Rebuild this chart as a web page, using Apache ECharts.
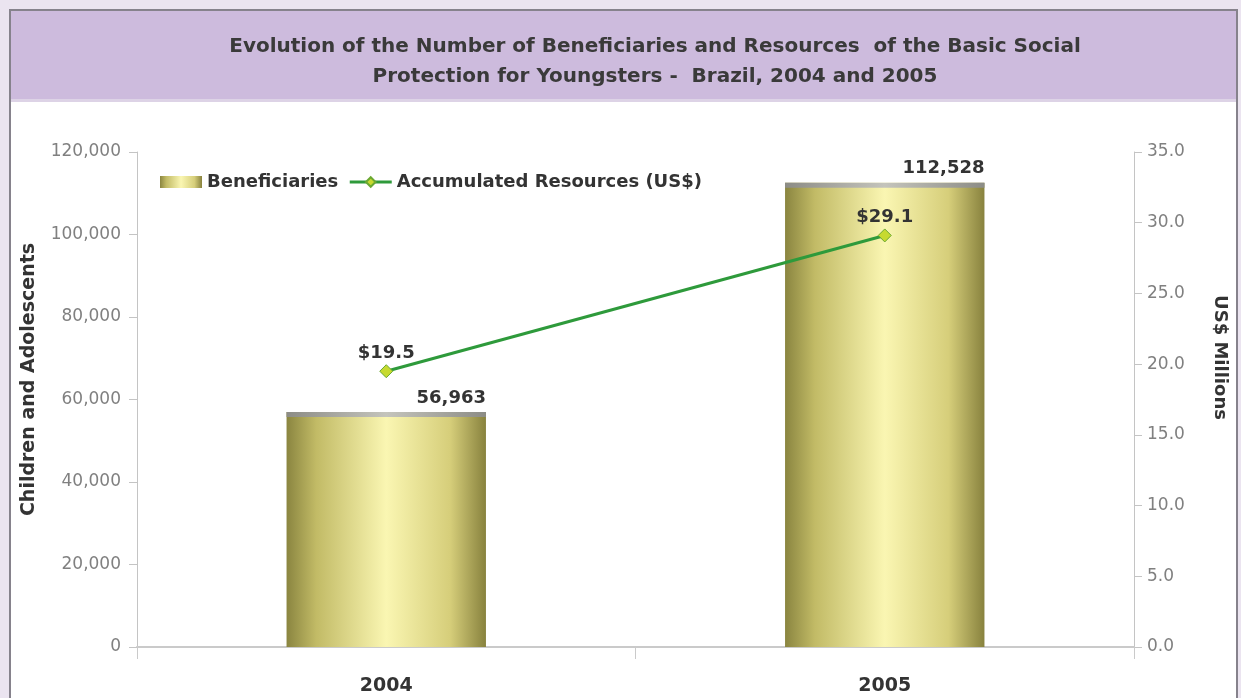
<!DOCTYPE html>
<html>
<head>
<meta charset="utf-8">
<title>Basic Social Protection for Youngsters - Brazil</title>
<script src="https://cdn.jsdelivr.net/npm/echarts@6/dist/echarts.min.js"></script>
<style>
  html, body { margin: 0; padding: 0; background: #ebe4f0; }
  #chart { width: 1241px; height: 698px; }
</style>
</head>
<body>
<div id="chart"></div>
<script>
// Years shown on the category axis
const years = ['2004', '2005'];
// Children and adolescents served
const beneficiaries = [56963, 112528];
// Accumulated resources, US$ millions
const resources = [19.5, 29.1];
// Axis ranges
const leftMax = 120000, leftStep = 20000;
const rightMax = 35, rightStep = 5;

const FONT = 'DejaVu Sans, Verdana, sans-serif';
const chart = echarts.init(document.getElementById('chart'), null, { renderer: 'canvas' });

// Cylinder-like shading across each bar
const barFill = new echarts.graphic.LinearGradient(0, 0, 1, 0, [
  { offset: 0, color: '#8a8540' },
  { offset: 0.15, color: '#c2bb66' },
  { offset: 0.5, color: '#faf6b2' },
  { offset: 0.82, color: '#d6ce7a' },
  { offset: 1, color: '#88823e' }
]);
const capFill = new echarts.graphic.LinearGradient(0, 0, 1, 0, [
  { offset: 0, color: '#8c8c86' },
  { offset: 0.5, color: '#c4c4bc' },
  { offset: 1, color: '#8c8c86' }
]);

chart.setOption({
  backgroundColor: '#ebe4f0',
  animation: false,
  textStyle: { fontFamily: FONT },
  graphic: [
    { type: 'rect', shape: { x: 10, y: 10, width: 1227, height: 700 },
      style: { fill: '#ffffff', stroke: '#86828c', lineWidth: 2 }, z: -10 },
    { type: 'rect', shape: { x: 11, y: 11, width: 1225, height: 89 },
      style: { fill: '#cdbbdd' }, z: -9 },
    { type: 'rect', shape: { x: 11, y: 99, width: 1225, height: 3 },
      style: { fill: '#ddd3e6' }, z: -9 }
  ],
  title: {
    text: 'Evolution of the Number of Beneficiaries and Resources  of the Basic Social\nProtection for Youngsters -  Brazil, 2004 and 2005',
    left: 650, top: 27, textAlign: 'center',
    textStyle: { fontSize: 20, fontWeight: 'bold', color: '#3a3a3a', lineHeight: 30, fontFamily: FONT }
  },
  legend: {
    left: 155, top: 168, itemGap: 10, itemWidth: 42, itemHeight: 12,
    textStyle: { fontSize: 18, fontWeight: 'bold', color: '#333', fontFamily: FONT },
    data: [
      { name: 'Beneficiaries', icon: 'rect' },
      { name: 'Accumulated Resources (US$)', lineStyle: { width: 3 } }
    ]
  },
  grid: { left: 137, right: 107, top: 152, bottom: 51, containLabel: false },
  xAxis: {
    type: 'category', data: years,
    axisLine: { lineStyle: { color: '#cacaca', width: 2 } },
    axisTick: { show: true, length: 12, lineStyle: { color: '#cacaca' } },
    axisLabel: { fontSize: 19, fontWeight: 'bold', color: '#333', margin: 30, fontFamily: FONT }
  },
  yAxis: [
    {
      type: 'value', min: 0, max: leftMax, interval: leftStep,
      name: 'Children and Adolescents', nameLocation: 'middle', nameGap: 98, nameRotate: 90,
      nameTextStyle: { fontSize: 19, fontWeight: 'bold', color: '#333', fontFamily: FONT,
        padding: [0, 0, 0, 40] },
      axisLine: { show: true, lineStyle: { color: '#c4c4c4' } },
      axisTick: { show: true, length: 8, lineStyle: { color: '#c4c4c4' } },
      splitLine: { show: false },
      axisLabel: { fontSize: 17, color: '#808080', margin: 16, fontFamily: FONT,
        formatter: v => v.toLocaleString('en-US') }
    },
    {
      type: 'value', min: 0, max: rightMax, interval: rightStep, position: 'right',
      name: 'US$ Millions', nameLocation: 'middle', nameGap: 77, nameRotate: -90,
      nameTextStyle: { fontSize: 18, fontWeight: 'bold', color: '#333', fontFamily: FONT,
        padding: [0, 84, 0, 0] },
      axisLine: { show: true, lineStyle: { color: '#c4c4c4' } },
      axisTick: { show: true, length: 8, lineStyle: { color: '#c4c4c4' } },
      splitLine: { show: false },
      axisLabel: { fontSize: 17, color: '#808080', margin: 13, fontFamily: FONT,
        formatter: v => v.toFixed(1) }
    }
  ],
  series: [
    {
      name: 'Beneficiaries', type: 'bar', yAxisIndex: 0, data: beneficiaries,
      barWidth: '40%', barGap: '-100%',
      itemStyle: { color: barFill },
      label: {
        show: true, position: ['100%', -5], align: 'right', verticalAlign: 'bottom',
        fontSize: 18, fontWeight: 'bold', color: '#333', fontFamily: FONT,
        formatter: p => p.value.toLocaleString('en-US')
      },
      z: 2
    },
    {
      // grey rim along the top of each bar
      name: 'bar rim', type: 'pictorialBar', yAxisIndex: 0, data: beneficiaries,
      barWidth: '40%', barGap: '-100%',
      symbol: 'rect', symbolSize: ['100%', 5], symbolPosition: 'end', symbolOffset: [0, 0],
      itemStyle: { color: capFill }, silent: true, z: 3
    },
    {
      name: 'Accumulated Resources (US$)', type: 'line', yAxisIndex: 1, data: resources,
      symbol: 'diamond', symbolSize: 13,
      lineStyle: { color: '#2e9a3b', width: 3 },
      itemStyle: { color: '#c7da30', borderColor: '#6aa832', borderWidth: 1 },
      label: {
        show: true, position: 'top', distance: 2, fontSize: 18, fontWeight: 'bold', color: '#333',
        fontFamily: FONT, formatter: p => '$' + p.value.toFixed(1)
      },
      z: 5
    }
  ]
});
</script>
</body>
</html>
